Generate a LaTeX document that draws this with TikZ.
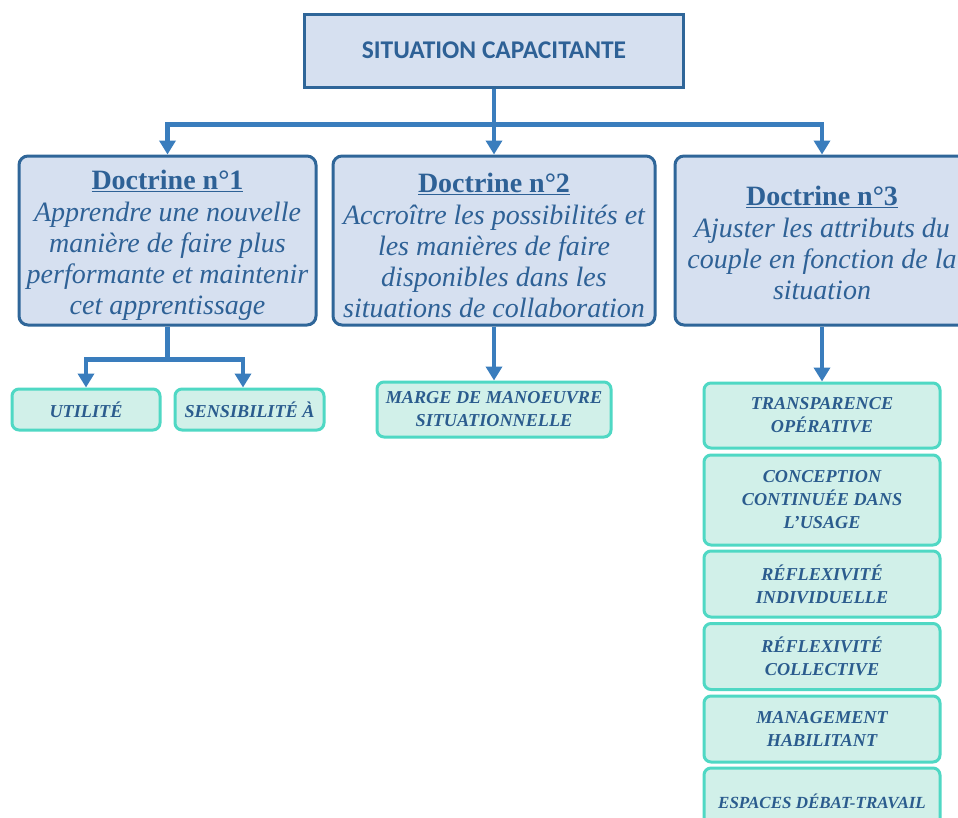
\documentclass[tikz,border=0pt]{standalone}
\usepackage{fontspec}
\setmainfont{Liberation Serif}
\newfontfamily\titlefont{Carlito}
\usetikzlibrary{arrows.meta,calc}
\definecolor{boxfill}{HTML}{D6E0F0}
\definecolor{boxedge}{HTML}{2F6699}
\definecolor{connblue}{HTML}{3A7DBD}
\definecolor{txtblue}{HTML}{2E6196}
\definecolor{greentxt}{HTML}{2B5C8E}
\definecolor{greenfill}{HTML}{D1F0E9}
\definecolor{greenedge}{HTML}{4FD8C4}
\tikzset{
  topbox/.style={draw=boxedge, fill=boxfill, line width=3pt, minimum width=379pt, minimum height=73pt,
    text=txtblue, font=\titlefont\bfseries\fontsize{25.5}{29}\selectfont},
  docbox/.style={draw=boxedge, fill=boxfill, line width=3pt, rounded corners=9pt, minimum height=169pt},
  doctext/.style={align=center, text=txtblue, inner sep=0pt, font=\fontsize{28}{31}\selectfont},
  greenbox/.style={draw=greenedge, fill=greenfill, line width=3pt, rounded corners=7pt, align=center,
    text=greentxt, inner sep=1pt, font=\bfseries\itshape\fontsize{18.2}{23}\selectfont},
  conn/.style={draw=connblue, line width=4.5pt},
  arr/.style={conn, -{Triangle[width=16pt,length=14pt]}},
}
\begin{document}
\begin{tikzpicture}[x=1pt,y=-1pt]
\clip (0,0) rectangle (958,817);
\fill[white] (0,0) rectangle (958,817);

\node[topbox] (top) at (494,50.5) {SITUATION CAPACITANTE};

\node[docbox, minimum width=297pt] (d1) at (167.5,240.5) {};
\node[doctext] (d1t) at ([yshift=-4.5pt]d1.center)
  {\textbf{\underline{Doctrine n°1}}\\[1pt] \itshape Apprendre une nouvelle\\ \itshape manière de faire plus\\ \itshape performante et maintenir\\ \itshape cet apprentissage};
\node[docbox, minimum width=322pt] (d2) at (494,240.5) {};
\node[doctext] (d2t) at ([yshift=-4.5pt]d2.center)
  {\textbf{\underline{Doctrine n°2}}\\[1pt] \itshape Accroître les possibilités et\\ \itshape les manières de faire\\ \itshape disponibles dans les\\ \itshape situations de collaboration};
\node[docbox, minimum width=294pt] (d3) at (822,240.5) {};
\node[doctext] (d3t) at ([yshift=-2.5pt]d3.center)
  {\textbf{\underline{Doctrine n°3}}\\[1pt] \itshape Ajuster les attributs du\\ \itshape couple en fonction de la\\ \itshape situation};

\node[greenbox, minimum width=148pt, minimum height=41pt] (u1) at (86,409.5) {UTILITÉ};
\node[greenbox, minimum width=149pt, minimum height=41pt] (u2) at (249.5,409.5) {SENSIBILITÉ À};

\node[greenbox, minimum width=234pt, minimum height=55pt] (m1) at (494,409.5) {MARGE DE MANOEUVRE\\SITUATIONNELLE};

\node[greenbox, minimum width=236pt, minimum height=65pt] (t1) at (822,415.5) {TRANSPARENCE\\OPÉRATIVE};
\node[greenbox, minimum width=236pt, minimum height=90pt] (t2) at (822,500) {CONCEPTION\\CONTINUÉE DANS\\L'USAGE};
\node[greenbox, minimum width=236pt, minimum height=66pt] (t3) at (822,584) {RÉFLEXIVITÉ\\INDIVIDUELLE};
\node[greenbox, minimum width=236pt, minimum height=66pt] (t4) at (822,656.5) {RÉFLEXIVITÉ\\COLLECTIVE};
\node[greenbox, minimum width=236pt, minimum height=66pt] (t5) at (822,729) {MANAGEMENT\\HABILITANT};
\node[greenbox, minimum width=236pt, minimum height=66pt, font=\bfseries\itshape\fontsize{17}{23}\selectfont] (t6) at (822,801) {ESPACES DÉBAT-TRAVAIL};

% connectors
\draw[conn] (top.south) -- ++(0,36) coordinate (j);
\draw[arr] (j) -| (d1.north);
\draw[arr] (j) -- (d2.north);
\draw[arr] (j) -| (d3.north);

\draw[conn] (d1.south) -- ++(0,33) coordinate (k);
\draw[arr] (k) -| (u1.north);
\draw[arr] (k) -| ([xshift=-6.5pt]u2.north);

\draw[arr] (d2.south) -- (m1.north);
\draw[arr] (d3.south) -- (t1.north);
\end{tikzpicture}
\end{document}
